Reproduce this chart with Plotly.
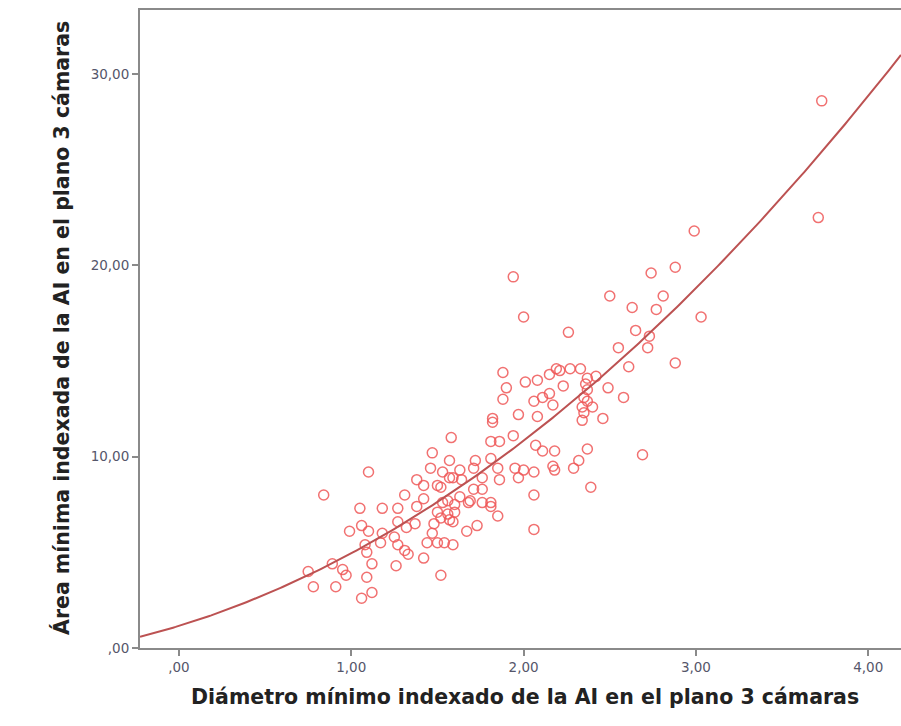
import numpy as np
import plotly.graph_objects as go

# Diámetro mínimo indexado (x) y área mínima indexada (y) de la AI, plano 3 cámaras
diametro = [
    3.73, 3.71, 2.99, 2.88, 2.74, 3.03, 2.81, 2.77, 2.63, 2.50,
    2.65, 2.73, 2.72, 2.55, 2.88, 2.61, 2.58, 1.94, 2.00, 2.26,
    2.69,
    2.42, 2.37, 2.33, 2.49, 2.40, 2.46, 2.35, 2.34, 2.36, 2.37,
    2.35, 2.37, 2.34, 2.19, 2.21, 2.27, 1.88, 2.01, 2.08, 2.15,
    1.90, 2.23, 2.06, 2.11, 2.15, 2.17, 1.88, 1.97, 1.82, 1.82,
    2.08,
    1.58, 1.81, 1.86, 1.94, 2.07, 2.11, 2.18, 2.37, 1.57, 1.72,
    1.81, 2.32, 2.29, 2.17, 2.18, 1.53, 1.63, 1.71, 1.85, 1.95,
    2.00, 2.06, 1.97, 1.86, 1.57, 1.64, 1.76, 2.39, 2.06, 1.52,
    1.71, 1.76, 1.63, 1.69, 1.81, 1.56,
    1.47, 1.10, 0.84, 1.46, 1.38, 1.59, 1.42, 1.50, 1.31, 1.42,
    1.05, 1.18, 1.27, 1.38,
    1.27, 1.50, 1.56, 1.59, 1.48, 0.99, 1.06, 1.10, 1.18, 1.25,
    1.32, 1.37, 1.44, 1.50, 1.54, 1.59, 1.47, 1.08, 1.09, 1.17,
    1.27, 1.31, 1.33, 1.12, 1.26, 1.42, 0.89, 0.95, 0.97, 0.75,
    0.78, 0.91, 1.09, 1.12, 1.06, 1.52,
    1.53, 1.60, 1.68, 1.76, 1.81, 1.85, 1.73, 1.67, 1.52, 1.57,
    1.60, 2.06,
]
area = [
    28.6, 22.5, 21.8, 19.9, 19.6, 17.3, 18.4, 17.7, 17.8, 18.4,
    16.6, 16.3, 15.7, 15.7, 14.9, 14.7, 13.1, 19.4, 17.3, 16.5,
    10.1,
    14.2, 14.1, 14.6, 13.6, 12.6, 12.0, 12.3, 11.9, 13.8, 13.5,
    13.1, 12.9, 12.6, 14.6, 14.5, 14.6, 14.4, 13.9, 14.0, 14.3,
    13.6, 13.7, 12.9, 13.1, 13.3, 12.7, 13.0, 12.2, 12.0, 11.8,
    12.1,
    11.0, 10.8, 10.8, 11.1, 10.6, 10.3, 10.3, 10.4, 9.8, 9.8,
    9.9, 9.8, 9.4, 9.5, 9.3, 9.2, 9.3, 9.4, 9.4, 9.4,
    9.3, 9.2, 8.9, 8.8, 8.9, 8.8, 8.9, 8.4, 8.0, 8.4,
    8.3, 8.3, 7.9, 7.7, 7.6, 7.7,
    10.2, 9.2, 8.0, 9.4, 8.8, 8.9, 8.5, 8.5, 8.0, 7.8,
    7.3, 7.3, 7.3, 7.4,
    6.6, 7.1, 7.0, 6.6, 6.5, 6.1, 6.4, 6.1, 6.0, 5.8,
    6.3, 6.5, 5.5, 5.5, 5.5, 5.4, 6.0, 5.4, 5.0, 5.5,
    5.4, 5.1, 4.9, 4.4, 4.3, 4.7, 4.4, 4.1, 3.8, 4.0,
    3.2, 3.2, 3.7, 2.9, 2.6, 3.8,
    7.6, 7.5, 7.6, 7.6, 7.4, 6.9, 6.4, 6.1, 6.8, 6.7,
    7.1, 6.2,
]

# Ajuste cuadrático: area = b0 + b1*d + b2*d^2
coef_cuadratico = [1.155, 2.755, 1.0425]

x_ticks = [0, 1, 2, 3, 4]
x_tick_labels = [",00", "1,00", "2,00", "3,00", "4,00"]
y_ticks = [0, 10, 20, 30]
y_tick_labels = [",00", "10,00", "20,00", "30,00"]

x_rango = [-0.226, 4.19]
y_rango = [0, 33.35]

curva_x = np.linspace(x_rango[0], x_rango[1], 300)
b0, b1, b2 = coef_cuadratico
curva_y = b0 + b1 * curva_x + b2 * curva_x ** 2

fig = go.Figure()
fig.add_trace(go.Scatter(
    x=diametro, y=area, mode="markers",
    marker=dict(symbol="circle-open", size=10, color="rgba(238,88,88,0.85)",
                line=dict(width=1.5, color="rgba(238,88,88,0.85)")),
    hoverinfo="x+y", showlegend=False,
))
fig.add_trace(go.Scatter(
    x=curva_x, y=curva_y, mode="lines",
    line=dict(color="rgb(188,82,82)", width=2),
    hoverinfo="skip", showlegend=False,
))

eje = dict(
    showgrid=False, zeroline=False, showline=True,
    linecolor="#8a8a8a", linewidth=2,
    ticks="outside", ticklen=6, tickwidth=1.5, tickcolor="#8a8a8a",
    tickfont=dict(family="DejaVu Sans", size=13.5, color="#55566a"),
)

fig.update_layout(
    width=901, height=726,
    margin=dict(l=140, r=0, t=10, b=78),
    paper_bgcolor="white", plot_bgcolor="white",
    xaxis=dict(eje, range=x_rango, tickvals=x_ticks, ticktext=x_tick_labels,
               mirror=True),
    yaxis=dict(eje, range=y_rango, tickvals=y_ticks, ticktext=y_tick_labels),
    annotations=[
        dict(text="<b>Diámetro mínimo indexado de la AI en el plano 3 cámaras</b>",
             xref="paper", yref="paper", x=0.506, y=-0.077,
             xanchor="center", yanchor="middle", showarrow=False,
             font=dict(family="DejaVu Sans", size=20.5, color="#222222")),
        dict(text="<b>Área mínima indexada de la AI en el plano 3 cámaras</b>",
             xref="paper", yref="paper", x=-0.1025, y=0.5016, textangle=-90,
             xanchor="center", yanchor="middle", showarrow=False,
             font=dict(family="DejaVu Sans", size=20.5, color="#222222")),
    ],
)

fig.write_html("out.html")
